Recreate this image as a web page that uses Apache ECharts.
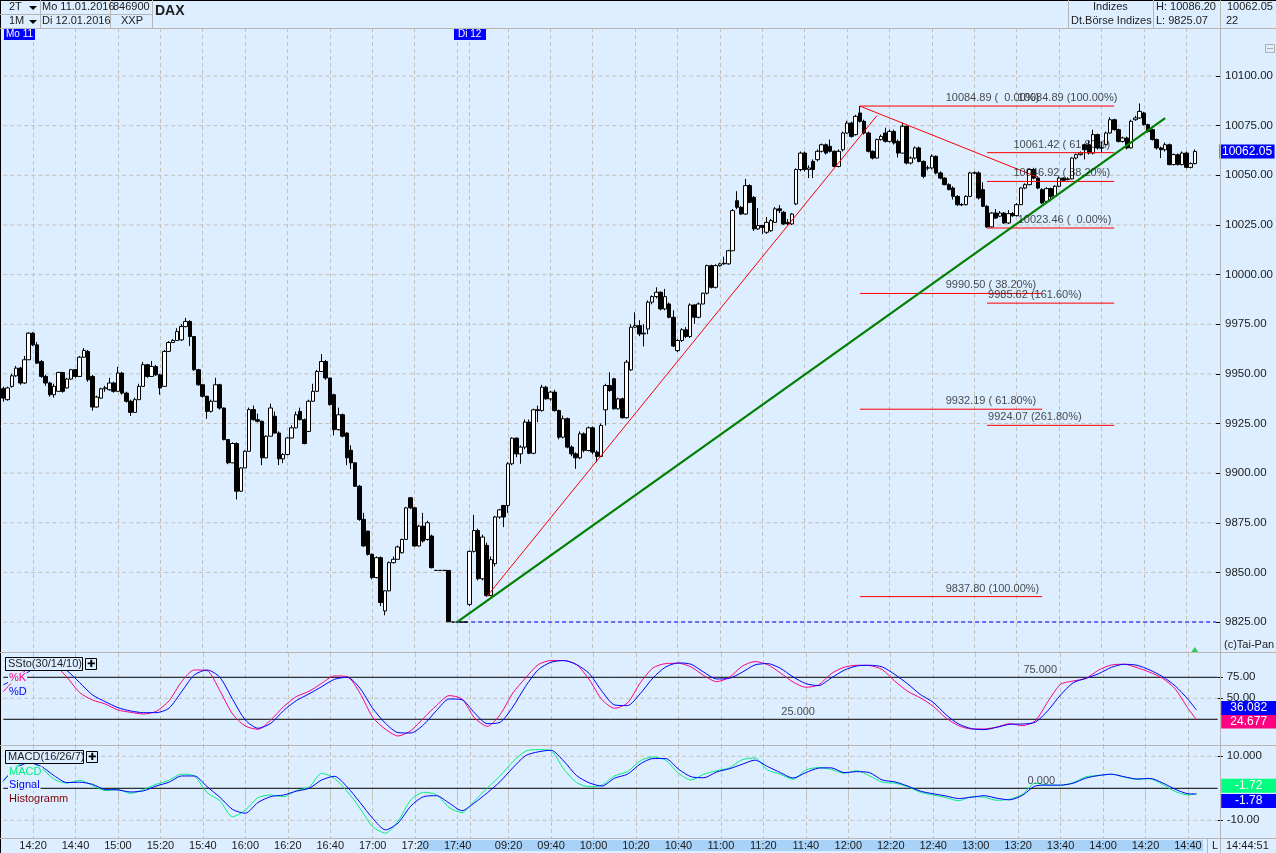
<!DOCTYPE html>
<html>
<head>
<meta charset="utf-8">
<title>DAX</title>
<script src="https://cdn.jsdelivr.net/npm/echarts@6/dist/echarts.min.js"></script>
<style>
html, body { margin: 0; padding: 0; background: #dceeff; overflow: hidden; }
#main { width: 1276px; height: 853px; }
</style>
</head>
<body>
<div id="main"></div>
<script>
// 2-minute bars, Mo 11.01.2016 14:06 .. Di 12.01.2016 14:44, index 0..281
const opens = [
9942.5,9937,9943.7,9949,9952.9,9945.4,9957.1,9970.5,9964.6,9956.2,
9948.7,9945.4,9939.5,9941.2,9950.7,9942.9,9947.4,9952.1,9948.7,9958.4,
9961.3,9948.7,9933.3,9937.8,9942.5,9942,9945.4,9941.2,9950.4,9940.3,
9936.2,9930.6,9937,9943.7,9954.6,9948.7,9953.7,9949.5,9943.7,9961.3,
9965.8,9966.8,9967.1,9973.8,9976.4,9968.8,9952.1,9944.5,9938.7,9931.1,
9936.2,9944.5,9932.8,9916.9,9905.2,9914.9,9890.9,9902.6,9911,9932,
9926.9,9926.1,9907.7,9918.6,9928.6,9920.2,9907.2,9909.4,9917.7,9922.8,
9931.1,9926.9,9921,9936.2,9941.2,9951.2,9956.2,9947.9,9939.5,9921.9,
9929.4,9920.2,9911.5,9905.2,9893.4,9876.7,9870.8,9859.1,9847.4,9857.4,
9830.6,9840.7,9854.9,9856.6,9859.9,9866.6,9887.6,9882.5,9863.3,9873.3,
9866.6,9868.3,9851,9851,9851,9851,9825,9825,9825,9825,
9833.9,9860.6,9871.1,9846.8,9863.6,9838.3,9854.4,9877.9,9883.7,9883.7,
9904.7,9917.6,9909.7,9913.1,9925.7,9910,9931.9,9931.5,9943.3,9937.4,
9940.8,9931.5,9918.1,9927.4,9913.1,9909.7,9907.7,9919.8,9911.4,9922.8,
9910.6,9908.4,9931.9,9944.1,9947.5,9932.4,9937.4,9927.9,9952,9973.5,
9974.3,9970.1,9972.6,9986.1,9988.9,9991.1,9982.7,9985.2,9978.5,9961.7,
9966.8,9972.2,9968.8,9984.7,9978.5,9985.2,9990.6,10004.5,9993.6,10004.5,
10005.7,10005.4,10012,10037.2,10033.9,10030.5,10044.8,10038.9,10023,10024.7,
10021.3,10022.1,10026.3,10033.1,10031.4,10026.3,10025.5,10035.6,10052.9,10061.2,
10052.9,10057,10057.9,10062.1,10065.4,10064.6,10062.1,10054.5,10062.9,10071.3,
10076.3,10070.5,10081.4,10077.2,10071.3,10062.1,10058.7,10068,10071.3,10067.1,
10072.1,10067.1,10061.2,10074.7,10056.2,10058.7,10063.8,10057,10053.7,10053.7,
10059.6,10051.2,10048.6,10045.3,10043.6,10039.4,10035.2,10035.2,10039.4,10051.2,
10051.2,10042.8,10034.4,10024,10031,10029.4,10031,10026,10030.7,10029.7,
10035.2,10043.6,10045.3,10052.9,10048.6,10042.8,10036.9,10043.3,10039.4,10044.5,
10048.6,10047.8,10048.2,10058.7,10060.4,10065.4,10065.4,10061.2,10070.5,10063.8,
10065.4,10071.3,10078,10073,10067.1,10068.8,10063.8,10078,10078.9,10081.4,
10075.5,10073,10068,10063.8,10062.9,10065.4,10055.4,10060.4,10055.4,10061.2,
10054,10055.9];
const closes = [
9937.8,9942.9,9949,9952.9,9945.4,9957.1,9970.5,9964.6,9955.4,9948.7,
9945.4,9939.5,9943.7,9950.7,9941.2,9947.4,9952.1,9948.7,9958.4,9961.8,
9947,9933.3,9938.3,9942.5,9943,9945.4,9941.2,9950.4,9940.3,9936.2,
9930.6,9937,9943.7,9954.6,9948.7,9953.7,9949.5,9942.9,9961.3,9965.8,
9966.8,9971.3,9973.8,9976.4,9968.8,9952.1,9944.5,9938.7,9931.1,9936.2,
9944.5,9932.8,9916.9,9905.2,9914.9,9890.9,9902.6,9911,9932,9926.9,
9926.1,9907.7,9918.6,9932.8,9920.2,9907.2,9909.4,9917.7,9922.8,9929.4,
9926.9,9914.9,9936.2,9941.2,9951.2,9956.2,9947.9,9934.5,9921.9,9929.4,
9918.6,9907.7,9905.2,9893.4,9876.7,9863.3,9859.1,9847.4,9857.4,9834.8,
9840.7,9854.9,9856.6,9862.8,9866.6,9882.5,9882.5,9863.3,9873.3,9865.8,
9875,9852.4,9851,9851,9851,9825.1,9825,9825,9825,9825,
9860.6,9871.1,9846.8,9867.8,9838.3,9856.4,9877.9,9881.5,9877.9,9904.7,
9917.6,9909.7,9913.1,9925.7,9910,9931.9,9931.5,9943.3,9937.4,9940.8,
9931.5,9918.1,9927.4,9913.1,9909.7,9907.7,9919.8,9911.4,9922.8,9910.6,
9908.4,9924,9944.1,9941.6,9932.4,9937.4,9927.9,9955.9,9973.5,9974.3,
9970.1,9970.5,9986.1,9988.9,9991.1,9982.7,9988.9,9978.5,9964,9966.8,
9972.2,9968.8,9984.7,9978.5,9985.2,9990.6,10004.5,9993.6,10004.5,10005.4,
10005.4,10012,10032.2,10033.9,10030.5,10044.8,10036.4,10023,10024.7,10023.8,
10026.3,10027.2,10033.1,10032.2,10025.5,10025.5,10030.5,10052.9,10061.2,10052.9,
10053.7,10052.9,10062.1,10065.4,10061.2,10062.1,10054.5,10062.1,10071.3,10076.3,
10069.6,10079.7,10077.2,10071.3,10062.1,10058.7,10068,10069.6,10067.1,10072.1,
10066.3,10061.2,10074.7,10056.2,10058.7,10063.8,10057,10049.5,10053.7,10059.6,
10051.2,10048.6,10045.3,10042.8,10039.4,10035.2,10035.2,10039.4,10051.2,10051.2,
10038.6,10034.4,10024,10031,10028.5,10031,10026,10030.7,10029.7,10035.2,
10043.6,10045.3,10052.9,10048.6,10043.6,10036.1,10043.3,10039.4,10044.5,10048.6,
10047.5,10048.2,10058.7,10060.4,10061.2,10062.9,10061.2,10070.5,10063.8,10063.8,
10071.3,10078,10073,10067.1,10068.8,10063.8,10077.2,10078.9,10082.2,10075.5,
10072.1,10068,10063.8,10062.9,10065.4,10055.4,10060.4,10055.4,10061.2,10054,
10055.9,10062.05];
const highs = [
9943.5,9943.5,9950,9954,9953.5,9959,9971,9971,9966,9957,
9949.5,9946,9945,9951,9951,9948,9952.5,9952.5,9959,9963,
9962,9949.5,9939,9943,9944,9948,9946,9953.5,9951,9941,
9937,9938,9945,9956,9955,9956.5,9954.5,9950,9962,9966.5,
9967.5,9973,9975,9978.2,9977,9969,9952.5,9945,9939,9937,
9948,9945,9933,9917,9915.5,9915.5,9903,9911.5,9933,9934,
9930,9926.5,9919,9935,9931,9921,9910,9918,9924,9931,
9933,9927.5,9937,9945,9952,9960,9957,9948,9940,9933,
9930,9920.5,9914,9905.5,9894,9880,9871,9859.5,9858,9858,
9841,9855.5,9858,9863.5,9867,9883,9888,9883,9874,9880,
9876,9869,9851,9851,9851,9851,9825,9825,9825,9825,
9861,9879,9872,9869,9865,9858,9878.5,9882,9884,9905.5,
9918,9918,9914,9927,9927,9932.5,9934,9944.5,9944,9941.5,
9942,9932,9929,9928,9914,9910.5,9921,9920.5,9923.5,9923.5,
9911.5,9925,9945,9950.8,9948,9938,9938,9957,9975,9981,
9977,9975,9987,9989.5,9993.6,9991.5,9992.8,9986,9982,9967.5,
9973,9973.5,9985.5,9985,9986,9991,10005,10005,10005.2,10006,
10009,10012.5,10033,10042,10034.5,10048.2,10045.5,10039.5,10033.5,10025,
10029,10028,10034,10035,10032,10028,10031,10053.5,10062,10062,
10055,10058,10063,10066,10066,10068,10062.5,10063,10072,10077.5,
10077,10080.5,10084.89,10078,10072,10062.5,10068.5,10070.5,10074,10073,
10073,10068,10076.5,10075,10059.5,10064.5,10064.5,10057.5,10055,10060.5,
10060,10052,10049,10046,10044.5,10040,10036,10040,10051.8,10052,
10052,10046.5,10035,10031.5,10033,10032,10031.5,10032.5,10031.5,10036,
10044,10046,10053.4,10053.8,10049.5,10043.5,10044,10043.8,10045,10049.5,
10049,10049,10059,10061,10062,10066,10067.5,10073,10071,10067,
10072,10079.2,10078.5,10073.5,10069.5,10069.5,10078,10080,10086.2,10082,
10076,10073.5,10068.5,10064.5,10066.5,10066,10061,10061,10062,10062,
10056.5,10063];
const lows = [
9936,9936.5,9943,9948.5,9944.5,9945,9957,9964,9955,9948,
9944,9938.5,9938,9941,9940.5,9942.5,9947,9948,9948.5,9958,
9946,9931.5,9933,9937.5,9941,9941.5,9940.5,9941,9939.5,9935.5,
9928.8,9930.5,9937,9943.5,9948,9948.5,9949,9939.5,9943.5,9961,
9965.5,9966.5,9966.5,9973.5,9964,9951.5,9944,9938,9927.4,9930.5,
9936,9932,9916.5,9904.5,9905,9886.7,9890.5,9902.5,9911,9926.5,
9925.5,9904,9907.5,9918.5,9920,9904,9905,9909,9917.5,9922.5,
9926.5,9914.5,9921,9936,9941,9951,9947,9934,9919,9921.5,
9918,9904,9902,9893,9876,9863,9858.5,9846.5,9847,9833,
9828.4,9840.5,9854.5,9856.5,9859.5,9866.5,9882,9863,9863,9865,
9866,9852,9851,9851,9851,9825.07,9825,9825,9825,9825,
9833,9860,9846,9846,9837.8,9838,9853,9877,9872.8,9880,
9904,9908,9904.7,9912,9909.5,9909.5,9925.7,9931,9937,9936.5,
9931,9917,9917.5,9912.5,9908.5,9902.2,9907,9910.5,9911,9909.5,
9905.5,9908,9924,9941,9932,9932,9927.5,9927.5,9951.5,9973,
9969,9963.8,9970,9985,9988,9982,9982,9978,9963.5,9961,
9966,9968,9968,9975.2,9978,9985,9990,9993,9993,10004,
10005,10005,10012,10033,10030,10030,10036,10022,10022.5,10020.5,
10020.5,10021.5,10026,10031,10025,10025,10025,10035,10052,10052,
10048.6,10048.6,10057,10061.5,10060.5,10061.5,10054,10054,10062,10071,
10069,10070,10076.5,10070.5,10061.5,10058,10058.5,10067.5,10066.5,10066.5,
10065.5,10059,10061,10055.5,10055.5,10058,10056.5,10048.6,10052.5,10053,
10050.5,10048,10045,10042.5,10037.8,10034.5,10034.5,10034.8,10039,10050.5,
10037.8,10034,10023.46,10023.8,10028,10029,10025.5,10025.5,10029,10029.2,
10035,10043,10045,10048,10043,10035.5,10036.5,10036.9,10039,10044,
10047,10047.5,10048,10058,10060,10058,10060.5,10060.5,10063,10061.5,
10065,10071,10072.5,10066.5,10066.5,10063,10063.5,10077.5,10078.5,10075,
10071.5,10067.5,10063,10058.7,10062,10055,10055,10055,10055,10053.5,
10053.5,10055.5];

// gridlines every 20 minutes, 110 is the unlabelled day break
const gridIdx = [7,17,27,37,47,57,67,77,87,97,107,110,119,129,139,149,159,169,179,189,199,209,219,229,239,249,259,269,279];
const timeLabels = ['14:20','14:40','15:00','15:20','15:40','16:00','16:20','16:40','17:00','17:20','17:40','','09:20','09:40','10:00','10:20','10:40','11:00','11:20','11:40','12:00','12:20','12:40','13:00','13:20','13:40','14:00','14:20','14:40'];
const priceTicks = [9825,9850,9875,9900,9925,9950,9975,10000,10025,10050,10075,10100];

// indicators read every third bar, last entry is the 14:44 bar
const stoK = [57.9,73.8,85.7,92.5,89.7,75,56.7,48,43.2,36.1,33.3,31.3,34.5,46.8,69.8,83.7,82.9,59.1,31.3,17,13.1,24.2,40,52,58.3,67.9,76.6,75.8,56,27.4,13.1,5.1,
11.5,26.6,41.3,53.2,49.2,26.6,16.6,30.5,56.3,74.2,90.1,94.9,94.9,90.1,72.2,48.4,38.1,44.4,68.3,86.1,91.3,91.7,87.3,77,69.8,75,88.1,93.7,90.1,80.2,69.4,63.1,65.9,79.4,86.9,89.3,88.9,84.1,70.2,58.3,50.4,40.5,26.6,17.4,13.5,13.5,15.8,19.8,
17.4,23,46,66.7,70.6,73.8,83.7,89.7,90.5,86.5,81,73.8,61.1,38.1,24.677];
const stoD = [65.9,73.8,81.7,90.9,93.7,82.9,68.6,54,46,38.9,34.9,32.9,32.9,38.1,57.9,77.8,83.7,75,48.8,24.2,14.3,20.2,35.3,47.2,55.2,63.9,72.6,75,61.9,38.1,20.2,9.1,
8.7,18.6,35.3,49.2,48.4,32.5,19.8,21.4,39.7,64.3,84.1,92.9,94.9,90.1,79.4,58.3,42,41.3,55.5,74.2,87.3,92.1,90.5,81,73,73.8,81,89.7,91.3,85.7,75.4,67.5,65.1,74.2,83.3,88.5,89.3,87.3,78.2,67.1,54.4,45.2,30.5,19.4,13.9,12.7,15.5,19,
19.4,21.4,35.3,54,68.6,73.8,79.4,86.9,90.5,89.3,83.7,75.8,64.7,48.8,36.082];
const macdLine = [2.1,6.8,8.3,6.25,2.8,1.6,2.5,0.9,-0.7,-0.4,-1.6,-0.4,1.25,2.5,4.4,3.85,-1.35,-3.9,-8.9,-6.8,-2.9,-2.1,-2.6,-0.7,0.4,4.7,3.1,-1,-6.25,-12,-14,-10.2,
-3.6,-1.25,-2,-6,-7.6,-3.9,0.1,3.9,8.3,11.6,12.1,11.7,6,1.8,0.5,1,3.9,5.2,8.6,9.8,8.8,4.7,2.6,4.4,5.5,6.4,8.9,9.5,5.7,4.4,2.8,5.7,6.5,5.9,4.7,5.5,3.9,1.9,1.6,0.5,-1.25,-2.1,-2.9,-3.9,-2.6,-2.8,-3.75,-3.4,
-1.9,1.6,1,0.9,1.8,3.6,4,4.4,3.5,2.8,3,1.25,-1,-2.1,-1.72];
const signalLine = [2.4,6.3,8,6.8,3.9,1.8,1.9,1.25,-0.4,-0.5,-1.15,-0.8,0.7,1.9,3.85,3.85,0.5,-2.8,-6.6,-7.8,-4.4,-2.6,-2.1,-0.9,0,2.6,3.75,0.4,-4.4,-9.4,-13,-10.8,
-5.5,-2.6,-2.3,-4.6,-7,-4.5,-1.4,2.1,6.4,10.2,11.4,11.9,8.5,4,1.7,0.7,3.2,4.4,7.6,9.3,9.3,6,3.6,3.3,5.1,6.1,7.5,8.8,6.8,4.9,3.2,4.9,6.3,6.4,4.9,5.2,4.9,2.6,2,0.7,-0.9,-1.7,-2.4,-3.2,-2.8,-2.3,-3.1,-3.6,
-2.2,0.7,1,1,1.6,3.2,4,4.4,3.6,2.9,3.1,1.7,-0.3,-1.7,-1.78];

// fibonacci levels: [from bar, to bar, price]
const fibLevels = [
  [202,262,10084.89],[202,245,9990.50],[202,245,9932.19],[202,245,9837.80],
  [232,262,10061.42],[232,262,10046.92],[232,262,10023.46],[232,262,9985.62],[232,262,9924.07]
];
// fibonacci texts: [bar, price, text]
const fibTexts = [
  [222,10084.89,'10084.89 (  0.00%)'],[239,10084.89,'10084.89 (100.00%)'],
  [238,10061.42,'10061.42 ( 61.80%)'],[238,10046.92,'10046.92 ( 38.20%)'],[239,10023.46,'10023.46 (  0.00%)'],
  [222,9990.50,'9990.50 ( 38.20%)'],[232,9985.62,'9985.62 (161.60%)'],
  [222,9932.19,'9932.19 ( 61.80%)'],[232,9924.07,'9924.07 (261.80%)'],[222,9837.80,'9837.80 (100.00%)']
];
// trend lines: [bar, price] pairs
const greenTrend = [[107,9825],[274,10078.8]];
const redTrendUp = [[114,9837.8],[206,10080]];
const redTrendDown = [[202,10084.89],[244,10049]];

const FONT = '"Liberation Sans", Arial, sans-serif';
const BG = '#dceeff';
const GRID = '#c4c0bc';
const SEP = '#b8b6b4';
const barCount = 287;

const chart = echarts.init(document.getElementById('main'));

function indicatorData(values) {
  return values.map(function (v, i) {
    return [i === values.length - 1 ? 281 : i * 3, v];
  });
}

function straight(points, axis, color, width, type, z) {
  return {
    type: 'line', xAxisIndex: axis, yAxisIndex: axis, data: points, symbol: 'none', silent: true, z: z,
    lineStyle: { color: color, width: width, type: type || 'solid' }, animation: false
  };
}

function flat(axis, value, from, to, color, width, type, z) {
  return straight([[from, value], [to, value]], axis, color, width, type, z);
}

function tag(value, text, bg, dy) {
  return {
    symbol: 'rect', symbolSize: [55, 14], silent: true,
    data: [{ coord: [286, value], symbolOffset: [31, dy] }],
    itemStyle: { color: bg },
    label: { show: true, position: 'inside', formatter: text, color: '#fff', fontFamily: FONT, fontSize: 12 }
  };
}

function note(axis, bar, value, text, dy) {
  return {
    type: 'scatter', xAxisIndex: axis, yAxisIndex: axis, data: [[bar, value]], symbolSize: 0, silent: true, z: 8,
    label: { show: true, position: 'right', distance: 1, offset: [0, dy], formatter: text, color: '#1c1c1c', fontFamily: FONT, fontSize: 11 }
  };
}

function curve(axis, values, color, markPoint) {
  return {
    type: 'line', xAxisIndex: axis, yAxisIndex: axis, data: indicatorData(values), symbol: 'none', silent: true, z: 5,
    smooth: 0.25, lineStyle: { color: color, width: 1 }, markPoint: markPoint
  };
}

function xAxisFor(grid, withLabels) {
  return {
    type: 'category', gridIndex: grid, boundaryGap: false,
    data: Array.from({ length: barCount }, function (_, i) { return String(i); }),
    axisLine: { show: false },
    axisTick: {
      show: withLabels, length: 12, lineStyle: { color: GRID },
      interval: function (i) { return gridIdx.indexOf(i) >= 0; }
    },
    axisLabel: {
      show: withLabels, margin: 2, color: '#1c1c1c', fontFamily: FONT, fontSize: 11,
      interval: function (i) { return gridIdx.indexOf(i) >= 0 && timeLabels[gridIdx.indexOf(i)] !== ''; },
      formatter: function (v, i) { return timeLabels[gridIdx.indexOf(i)]; }
    },
    splitLine: {
      show: true, lineStyle: { color: GRID, type: [4, 3], width: 1 },
      interval: function (i) { return gridIdx.indexOf(i) >= 0; }
    }
  };
}

function yAxisFor(grid, min, max, ticks, fmt) {
  return {
    type: 'value', gridIndex: grid, position: 'right', min: min, max: max, scale: true,
    splitLine: { show: false }, axisLine: { show: false },
    axisTick: { show: true, length: 5, customValues: ticks, lineStyle: { color: '#000' } },
    axisLabel: { show: true, margin: 9, customValues: ticks, color: '#1c1c1c', fontFamily: FONT, fontSize: 11.5, formatter: fmt, hideOverlap: false }
  };
}

// chrome of the trading window
function gLine(x1, y1, x2, y2, color, z) {
  return { type: 'line', silent: true, z: z || 50, shape: { x1: x1, y1: y1, x2: x2, y2: y2 }, style: { stroke: color, lineWidth: 1 } };
}
function gText(x, y, text, opts) {
  return {
    type: 'text', silent: true, z: 60, x: x, y: y,
    style: Object.assign({ text: text, fill: '#1c1c1c', font: '11px ' + FONT, textVerticalAlign: 'middle', verticalAlign: 'middle' }, opts || {})
  };
}
function gRect(x, y, w, h, fill, stroke, z) {
  return { type: 'rect', silent: true, z: z || 55, shape: { x: x, y: y, width: w, height: h }, style: { fill: fill, stroke: stroke || null, lineWidth: 1 } };
}
function gBox(x, y, text, color) {
  return gText(x, y, text, { fill: color, backgroundColor: BG, padding: [0, 1] });
}

const chrome = [
  gRect(420, 840, 783, 11, '#a9d2f8', null, -1),
  gLine(0.5, 0, 0.5, 853, '#000'),
  gLine(0, 0.5, 1276, 0.5, '#000'),
  gLine(0, 28.5, 1276, 28.5, SEP),
  gLine(0, 14.5, 152, 14.5, SEP),
  gLine(40.5, 0, 40.5, 28, SEP),
  gLine(110.5, 0, 110.5, 28, SEP),
  gLine(152.5, 0, 152.5, 28, SEP),
  gLine(1068.5, 0, 1068.5, 28, SEP),
  gLine(1153.5, 0, 1153.5, 28, SEP),
  gLine(1220.5, 0, 1220.5, 853, SEP),
  gLine(1207.5, 838, 1207.5, 853, SEP),
  gLine(0, 652.5, 1276, 652.5, SEP),
  gLine(0, 745.5, 1276, 745.5, SEP),
  gLine(0, 838.5, 1276, 838.5, SEP),
  gText(9, 7, '2T'), gText(9, 21, '1M'),
  { type: 'polygon', silent: true, z: 60, shape: { points: [[29, 6], [37, 6], [33, 10]] }, style: { fill: '#000' } },
  { type: 'polygon', silent: true, z: 60, shape: { points: [[29, 20], [37, 20], [33, 24]] }, style: { fill: '#000' } },
  gText(42, 7, 'Mo 11.01.2016'), gText(42, 21, 'Di 12.01.2016'),
  gText(113, 7, '846900'), gText(121, 21, 'XXP'),
  gText(155, 11, 'DAX', { font: 'bold 14px ' + FONT }),
  gText(1093, 7, 'Indizes'), gText(1071, 21, 'Dt.Börse Indizes'),
  gText(1156, 7, 'H: 10086.20'), gText(1156, 21, 'L: 9825.07'),
  gText(1227, 7, '10062.05'), gText(1226, 21, '22'),
  gRect(1265.5, 44.5, 9, 8, BG, '#b0aeac'),
  gLine(1267, 48.5, 1273, 48.5, '#b0aeac', 60),
  gRect(4, 29, 31, 11, '#0000ff'), gText(6, 34.5, 'Mo 11', { fill: '#fff', font: '10px ' + FONT }),
  gRect(454, 29, 32, 11, '#0000ff'), gText(458, 34.5, 'Di 12', { fill: '#fff', font: '10px ' + FONT }),
  gText(1224, 645, '(c)Tai-Pan'),
  gRect(5.5, 657.5, 77, 13, BG, '#000'), gText(8, 664, 'SSto(30/14/10)'),
  gRect(85.5, 658.5, 11, 11, BG, '#000'), gText(87, 664, '✚', { fill: '#000', font: 'bold 10px "DejaVu Sans"' }),
  gBox(8, 678, '%K', '#ff0080'), gBox(8, 692, '%D', '#0000ff'),
  gRect(5.5, 750.5, 78, 13, BG, '#000'), gText(8, 757, 'MACD(16/26/7)'),
  gRect(86.5, 751.5, 11, 11, BG, '#000'), gText(88, 757, '✚', { fill: '#000', font: 'bold 10px "DejaVu Sans"' }),
  gBox(8, 772, 'MACD', '#00f080'), gBox(8, 785, 'Signal', '#0000ff'), gBox(8, 799, 'Histogramm', '#800000'),
  gText(1212, 846, 'L'), gText(1226, 846, '14:44:51')
];

const series = [
  {
    type: 'candlestick', xAxisIndex: 0, yAxisIndex: 0, silent: true, z: 4, barWidth: 4, clip: false,
    data: opens.map(function (o, i) { return [o, closes[i], lows[i], highs[i]]; }),
    itemStyle: { color: '#ffffff', color0: '#000000', borderColor: '#000000', borderColor0: '#000000', borderWidth: 1 },
    markPoint: tag(10062.05, '10062.05', '#0000ff', 0)
  },
  straight(greenTrend, 0, '#008000', 2.2, 'solid', 7),
  straight(redTrendUp, 0, '#ff0000', 1, 'solid', 6),
  straight(redTrendDown, 0, '#ff0000', 1, 'solid', 6),
  flat(0, 9825, 107, 286, '#0000ff', 1, [4, 3], 3),
  { type: 'scatter', xAxisIndex: 0, yAxisIndex: 0, data: [[281, 9810.9]], symbol: 'triangle', symbolSize: [8, 6], silent: true, itemStyle: { color: '#00c030' } },
  // indicator reference lines
  flat(1, 50, 0, 286, GRID, 1, [4, 3], 1),
  flat(1, 75, 0, 286, '#000', 1, 'solid', 4),
  flat(1, 25, 0, 286, '#000', 1, 'solid', 4),
  flat(2, 10, 0, 286, GRID, 1, [4, 3], 1),
  flat(2, -10, 0, 286, GRID, 1, [4, 3], 1),
  flat(2, 0, 0, 286, '#000', 1, 'solid', 4),
  note(1, 240, 75, '75.000', -7),
  note(1, 183, 25, '25.000', -7),
  note(2, 241, 0, '0.000', -7),
  curve(1, stoK, '#ff0080', tag(24.677, '24.677', '#ff0080', 2)),
  curve(1, stoD, '#0000ff', tag(36.082, '36.082', '#0000ff', -2)),
  curve(2, macdLine, '#00f080', tag(-1.72, '-1.72', '#00ff80', -8)),
  curve(2, signalLine, '#0000ff', tag(-1.78, '-1.78', '#0000ff', 7))
];
priceTicks.forEach(function (p) { series.push(flat(0, p, 0, 286, GRID, 1, [4, 3], 1)); });
fibLevels.forEach(function (f) { series.push(flat(0, f[2], f[0], f[1], '#ff0000', 1, 'solid', 6)); });
fibTexts.forEach(function (f) { series.push(note(0, f[0], f[1], f[2], -8)); });

chart.setOption({
  animation: false,
  backgroundColor: BG,
  textStyle: { fontFamily: FONT },
  grid: [
    { left: 3.3, width: 1214.4, top: 28, height: 625 },
    { left: 3.3, width: 1214.4, top: 653, height: 92 },
    { left: 3.3, width: 1214.4, top: 745, height: 93 }
  ],
  xAxis: [xAxisFor(0, false), xAxisFor(1, false), xAxisFor(2, true)],
  yAxis: [
    yAxisFor(0, 9809.4, 10124.2, priceTicks, function (v) { return v.toFixed(2); }),
    yAxisFor(1, -5.6, 103.9, [75, 50], function (v) { return v.toFixed(2); }),
    yAxisFor(2, -15.53, 13.53, [10, -10], function (v) { return v === 10 ? '10.000' : '-10.00'; })
  ],
  series: series,
  graphic: { elements: chrome }
});
</script>
</body>
</html>
